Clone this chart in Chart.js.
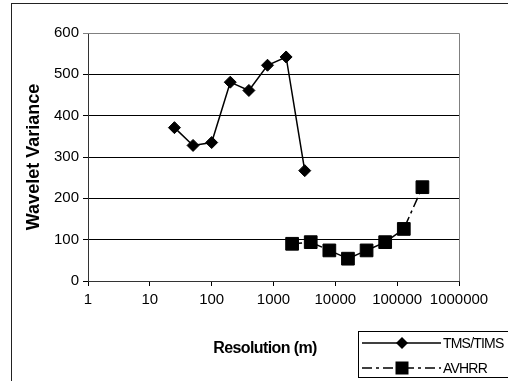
<!DOCTYPE html>
<html>
<head>
<meta charset="utf-8">
<script src="https://cdn.jsdelivr.net/npm/chart.js@4"></script>
<style>
  html, body { margin: 0; padding: 0; background: #fff; }
  canvas { display: block; }
</style>
</head>
<body>
<canvas id="chart" width="508" height="381"></canvas>
<script>
// resolution (m) and wavelet variance
const tmsRes = [25, 50, 100, 200, 400, 800, 1600, 3200];
const tmsVar = [371, 328, 335, 481, 461, 522, 542, 267];
const avhrrRes = [2000, 4000, 8000, 16000, 32000, 64000, 128000, 256000];
const avhrrVar = [90, 94, 74, 54, 74, 94, 126, 227];
const xTicks = [1, 10, 100, 1000, 10000, 100000, 1000000];
const seriesNames = ["TMS/TIMS", "AVHRR"];

const FONT = "'Liberation Sans', Arial, sans-serif";
const avhrrDash = [10, 4, 3, 4];

const toPoints = (xs, ys) => xs.map((x, i) => ({ x: x, y: ys[i] }));

// frame, axis titles and the boxed legend
const extras = {
  id: "extras",
  afterDraw(chart) {
    const ctx = chart.ctx;
    const a = chart.chartArea;
    ctx.save();

    // outer chart border (runs off the right and bottom edges)
    ctx.strokeStyle = "#222";
    ctx.lineWidth = 1;
    ctx.strokeRect(11.5, 3.5, 600, 600);

    // grey plot frame on top and right
    ctx.strokeStyle = "#808080";
    ctx.beginPath();
    ctx.moveTo(a.left, a.top + 0.5);
    ctx.lineTo(a.right + 0.5, a.top + 0.5);
    ctx.lineTo(a.right + 0.5, a.bottom);
    ctx.stroke();

    ctx.fillStyle = "#000";
    ctx.textAlign = "center";
    ctx.textBaseline = "middle";

    // y title
    ctx.save();
    ctx.translate(34, 157);
    ctx.rotate(-Math.PI / 2);
    ctx.font = "bold 18px " + FONT;
    ctx.fillText("Wavelet Variance", 0, 0);
    ctx.restore();

    // x title
    ctx.font = "bold 16px " + FONT;
    ctx.letterSpacing = "-0.6px";
    ctx.fillText("Resolution (m)", 265, 349);
    ctx.letterSpacing = "0px";

    // legend
    ctx.strokeStyle = "#000";
    ctx.lineWidth = 1;
    ctx.strokeRect(358.5, 331.5, 160, 46);
    const rows = [343, 368];
    rows.forEach((y, i) => {
      ctx.lineWidth = 1.5;
      ctx.strokeStyle = "#000";
      ctx.setLineDash(i === 0 ? [] : avhrrDash);
      ctx.beginPath();
      ctx.moveTo(362, y);
      ctx.lineTo(441, y);
      ctx.stroke();
      ctx.setLineDash([]);
      ctx.beginPath();
      if (i === 0) {
        ctx.moveTo(402 - 6, y);
        ctx.lineTo(402, y - 6);
        ctx.lineTo(402 + 6, y);
        ctx.lineTo(402, y + 6);
        ctx.closePath();
      } else {
        ctx.rect(402 - 6.5, y - 6.5, 13, 13);
      }
      ctx.fill();
      ctx.font = "14px " + FONT;
      ctx.letterSpacing = "-0.8px";
      ctx.textAlign = "left";
      ctx.fillText(seriesNames[i], 443, y + 1);
      ctx.letterSpacing = "0px";
    });
    ctx.restore();
  }
};

new Chart(document.getElementById("chart"), {
  type: "scatter",
  data: {
    datasets: [
      {
        label: seriesNames[0],
        data: toPoints(tmsRes, tmsVar),
        showLine: true,
        borderColor: "#000",
        backgroundColor: "#000",
        borderWidth: 1.5,
        pointStyle: "rectRot",
        pointRadius: 6,
        pointBorderWidth: 1,
        pointBackgroundColor: "#000"
      },
      {
        label: seriesNames[1],
        data: toPoints(avhrrRes, avhrrVar),
        showLine: true,
        borderColor: "#000",
        backgroundColor: "#000",
        borderWidth: 1.5,
        borderDash: avhrrDash,
        pointStyle: "rect",
        pointRadius: 9,
        pointBorderWidth: 1,
        pointBackgroundColor: "#000"
      }
    ]
  },
  options: {
    responsive: false,
    animation: false,
    devicePixelRatio: 1,
    layout: { padding: { left: 0, top: 33, right: 49, bottom: 0 } },
    plugins: {
      legend: { display: false },
      tooltip: { enabled: false }
    },
    scales: {
      x: {
        type: "logarithmic",
        min: 1,
        max: 1000000,
        afterBuildTicks: (scale) => {
          scale.ticks = xTicks.map((v) => ({ value: v }));
        },
        afterFit: (scale) => { scale.height = 100; },
        ticks: {
          callback: (v) => String(v),
          color: "#000",
          padding: 5,
          maxRotation: 0,
          autoSkip: false,
          font: { family: FONT, size: 15 }
        },
        grid: {
          drawOnChartArea: false,
          tickLength: 5,
          color: "#000"
        },
        border: { color: "#333", width: 1 }
      },
      y: {
        min: 0,
        max: 600,
        afterFit: (scale) => { scale.width = 88; },
        ticks: {
          stepSize: 100,
          color: "#000",
          padding: 4,
          font: { family: FONT, size: 15 }
        },
        grid: {
          tickLength: 5,
          color: (c) => (c.tick && c.tick.value === 600 ? "#808080" : "#000")
        },
        border: { color: "#333", width: 1 }
      }
    }
  },
  plugins: [extras]
});
</script>
</body>
</html>
